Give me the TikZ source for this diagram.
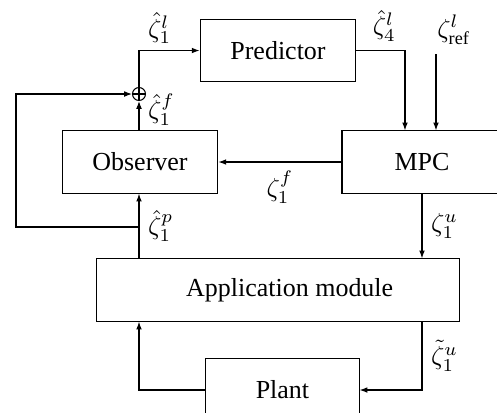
\documentclass[tikz,border=0pt]{standalone}
\usepackage{fontspec}
\setmainfont{Liberation Serif}
\usetikzlibrary{arrows.meta}
\begin{document}
\begin{tikzpicture}[x = .385pt, y = -.385pt, line width = .4, >= {Latex[length = 3pt, width = 2.2pt]},
  blk/.style = {draw, minimum height = 24pt}]
\useasboundingbox (0,0) rectangle (497,412);
\clip (0,0) rectangle (497,412);
\node[blk, minimum width = 60pt] (pred) at (278,50.5) {Predictor};
\node[blk, minimum width = 60pt] (obs) at (140,162) {Observer};
\node[blk, minimum width = 61.6pt] (mpc) at (422,162) {MPC};
\node[blk, minimum width = 139.4pt] (app) at (278,290) {\hspace*{9pt}Application module};
\node[blk, minimum width = 59pt] (plant) at (282.5,390) {Plant};
\node[circle, draw, inner sep = 0, minimum size = 5pt] (sum) at (139,94) {};
\draw (sum.north) -- (sum.south) (sum.west) -- (sum.east);
\coordinate (tap) at (139,227);
\coordinate (fb) at (16,227);
\coordinate (ref) at (436,54);
\coordinate (in) at (405,131);
\draw[->] (sum.north) |- node[above right, yshift = -1pt] {$\hat\zeta_1^l$} (pred.west);
\draw[->] (obs.north -| sum) -- node[right, pos = .7] {$\hat\zeta_1^f$} (sum.south);
\draw[->] (pred.east) -| node[above left] {$\hat\zeta_4^l$} (in |- mpc.north);
\draw[->] (ref) -- node[at start, above right, xshift = -3pt] {$\zeta_{\mathrm{ref}}^l$} (ref |- mpc.north);
\draw[->] (mpc.west) -- node[below] {$\zeta_1^f$} (obs.east);
\draw[->] (mpc.south) -- node[right] {$\zeta_1^u$} (mpc.south |- app.north);
\draw[->] (app.north -| tap) -- node[right] {$\hat\zeta_1^p$} (obs.south -| tap);
\draw[->] (tap) -- (fb) |- (sum.west);
\draw[->] (app.south -| mpc.south) |- node[pos = .25, right] {$\tilde\zeta_1^u$} (plant.east);
\draw[->] (plant.west) -| (app.south -| tap);
\end{tikzpicture}
\end{document}
